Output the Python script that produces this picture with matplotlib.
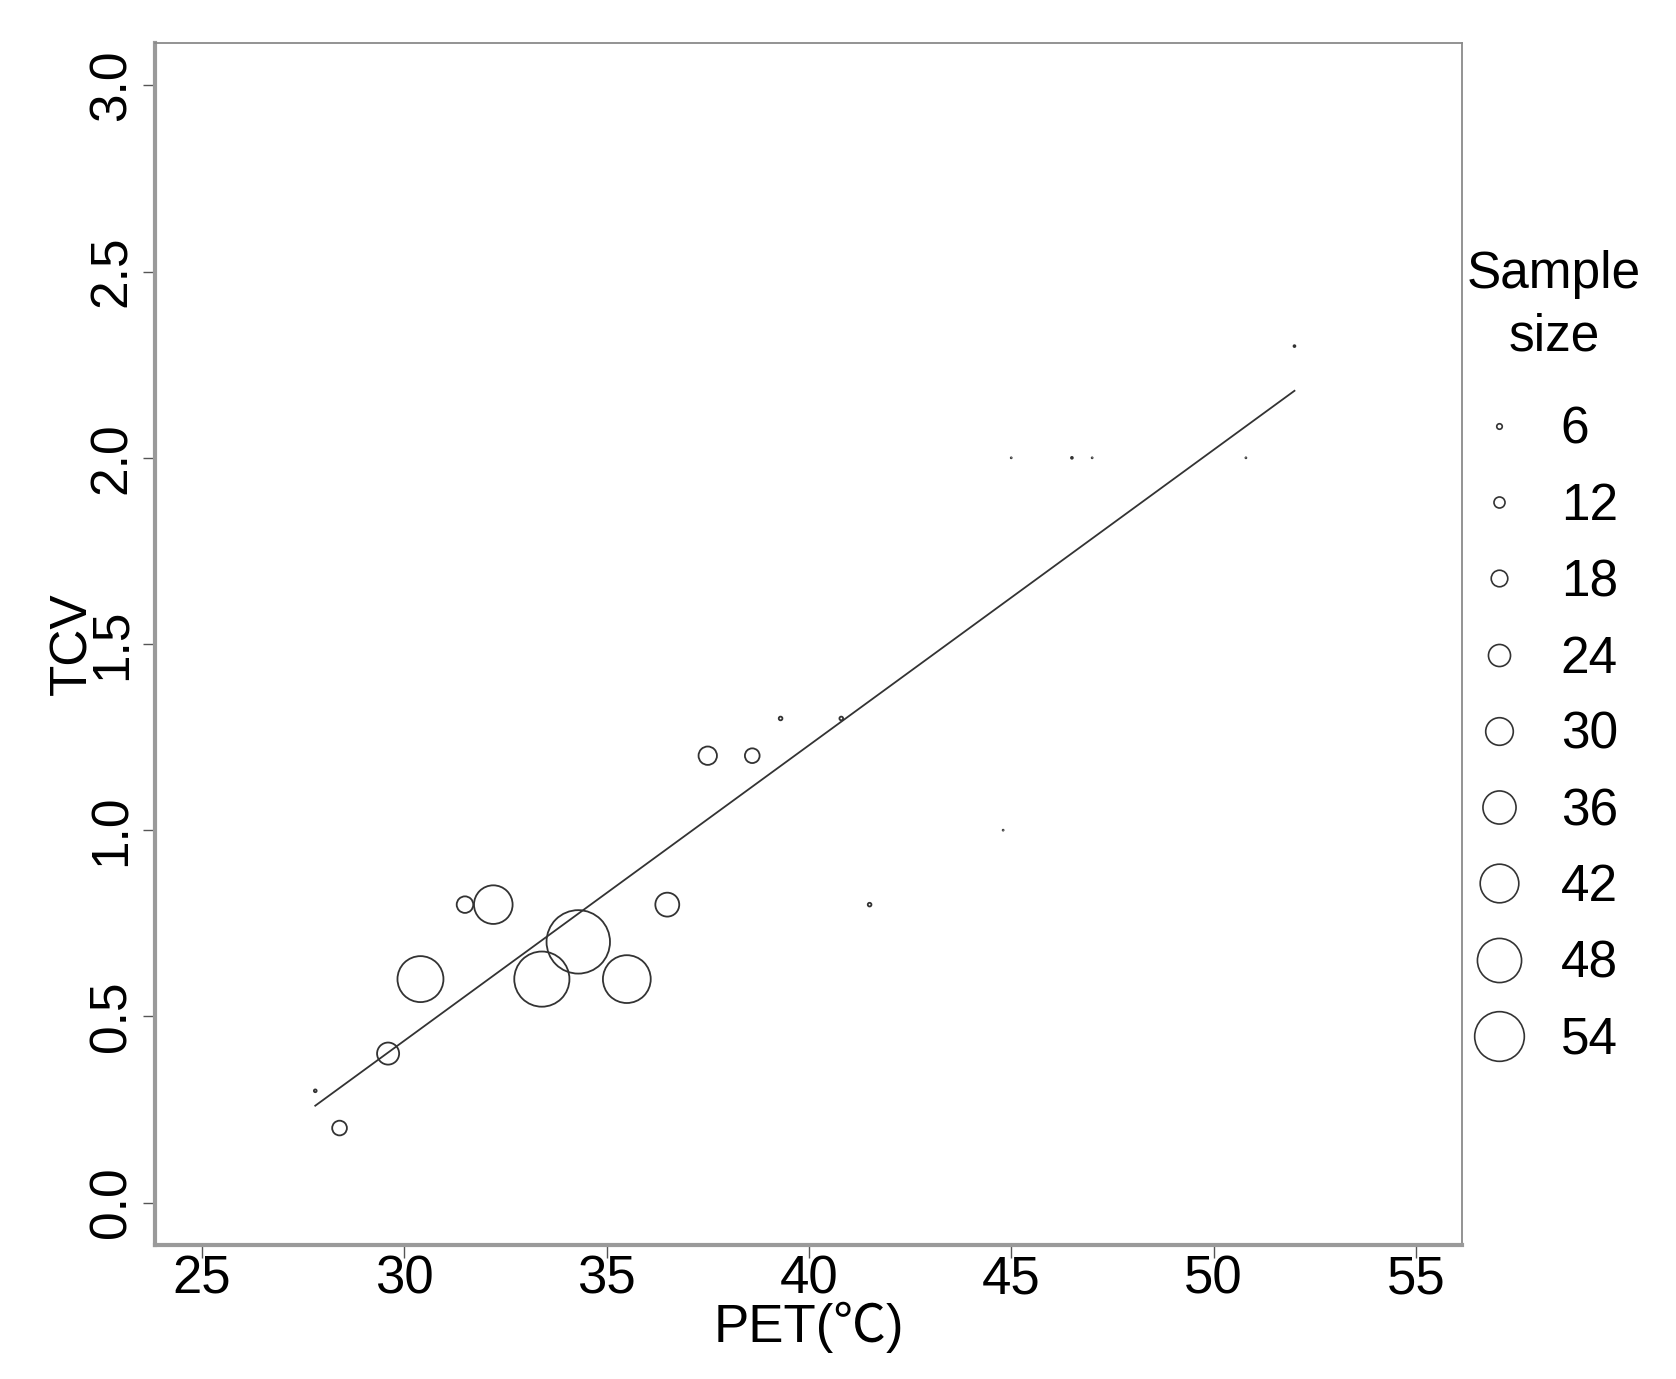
import numpy as np
import matplotlib
matplotlib.use('Agg')
import matplotlib.pyplot as plt
from matplotlib.lines import Line2D

plt.rcParams['font.family'] = ['Liberation Sans', 'Noto Sans CJK SC', 'DejaVu Sans']

# data
pet = [27.8, 28.4, 29.6, 30.4, 31.5, 32.2, 33.4, 34.3, 35.5, 36.5, 37.5,
       38.6, 39.3, 40.8, 41.5, 44.8, 45.0, 46.5, 47.0, 50.8, 52.0]
tcv = [0.3, 0.2, 0.4, 0.6, 0.8, 0.8, 0.6, 0.7, 0.6, 0.8, 1.2,
       1.2, 1.3, 1.3, 0.8, 1.0, 2.0, 2.0, 2.0, 2.0, 2.3]
n = [3, 16, 24, 50, 18, 42, 60, 69, 52, 26, 20,
     16, 4, 4, 4, 1, 1, 2, 1, 1, 2]

# fitted line, end points
fit_x = [27.8, 52.0]
fit_y = [0.26, 2.18]

legend_sizes = [6, 12, 18, 24, 30, 36, 42, 48, 54]
xticks = [25, 30, 35, 40, 45, 50, 55]
yticks = [0.0, 0.5, 1.0, 1.5, 2.0, 2.5, 3.0]

k = 0.662   # marker diameter (pt) per unit of sample size
ink = '#333333'

fig = plt.figure(figsize=(16.76, 13.79), dpi=100)
ax = fig.add_axes([0.0925, 0.0972, 0.7798, 0.8716])

ax.scatter(pet, tcv, s=(k * np.array(n)) ** 2, facecolors='none',
           edgecolors=ink, linewidths=1.3, zorder=3)
ax.plot(fit_x, fit_y, color=ink, lw=1.3, zorder=2)

ax.set_xlim(23.84, 56.14)
ax.set_ylim(-0.114, 3.114)
ax.set_xticks(xticks)
ax.set_yticks(yticks)
ax.set_xticklabels([str(t) for t in xticks])
ax.set_yticklabels(['%.1f' % t for t in yticks], rotation=90, va='center')

ax.tick_params(axis='x', direction='out', length=9, width=1, color='#555555',
               labelsize=38, pad=-2)
ax.tick_params(axis='y', direction='out', length=9, width=1, color='#555555',
               labelsize=37, pad=4)

for side in ['left', 'bottom']:
    ax.spines[side].set_color('#9a9a9a')
    ax.spines[side].set_linewidth(3)
for side in ['top', 'right']:
    ax.spines[side].set_color('#8a8a8a')
    ax.spines[side].set_linewidth(1.3)

ax.set_xlabel('PET(℃)', fontsize=38)
ax.set_ylabel('TCV', fontsize=37)
ax.xaxis.set_label_coords(0.5, -0.047)
ax.yaxis.set_label_coords(-0.044, 0.5)

# legend: title as its own text, entries below it
fig.text(0.9272, 0.7785, 'Sample\nsize', ha='center', va='center',
         fontsize=37, linespacing=1.35)
handles = [Line2D([], [], ls='none', marker='o', markersize=k * s,
                  markerfacecolor='none', markeredgecolor=ink,
                  markeredgewidth=1.2) for s in legend_sizes]
fig.legend(handles, [str(s) for s in legend_sizes],
           loc='upper left', bbox_to_anchor=(0.8699, 0.7057),
           frameon=False, fontsize=37,
           handlelength=1.6, handletextpad=0.4, labelspacing=0.53,
           borderpad=0, borderaxespad=0)

fig.savefig('out.png', dpi=100)
